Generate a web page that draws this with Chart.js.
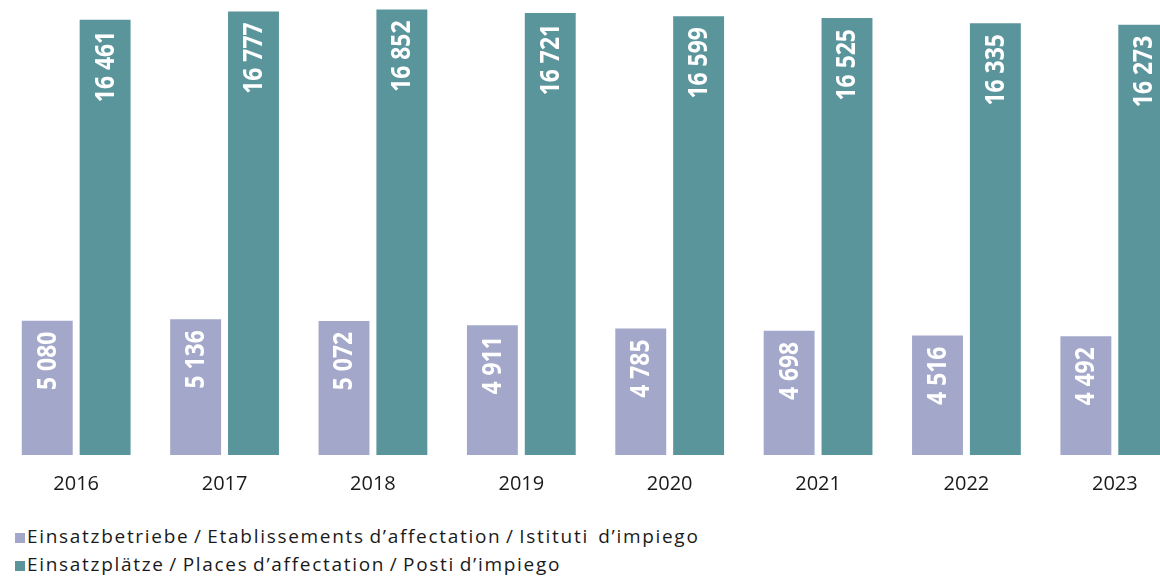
<!DOCTYPE html>
<html>
<head>
<meta charset="utf-8">
<script src="https://cdn.jsdelivr.net/npm/chart.js@4/dist/chart.umd.min.js"></script>
<style>
  html, body { margin: 0; padding: 0; background: #fff; overflow: hidden; }
  #wrap { position: relative; width: 1160px; height: 576px; overflow: hidden; }
  #grafico { position: absolute; left: 0; top: 0; }
  #legende { position: absolute; left: 15px; top: 522px; font-family: 'Open Sans', sans-serif;
             font-size: 19px; letter-spacing: 1.7px; word-spacing: -2px; color: #1a1a1a; }
  #legende div { height: 28px; line-height: 28px; white-space: pre; display: flex; align-items: center; }
  #legende span.box { display: inline-block; width: 10px; height: 10px; margin-right: 2px; margin-top: 3px; }
</style>
</head>
<body>
<div id="wrap">
  <canvas id="grafico" width="1190" height="513"></canvas>
  <div id="legende"></div>
</div>
<script>
const jahre = ["2016", "2017", "2018", "2019", "2020", "2021", "2022", "2023"];
const betriebe = [5080, 5136, 5072, 4911, 4785, 4698, 4516, 4492];
const plaetze = [16461, 16777, 16852, 16721, 16599, 16525, 16335, 16273];

const labelBetriebe = "Einsatzbetriebe / Etablissements d\u2019affectation / Istituti  d\u2019impiego";
const labelPlaetze = "Einsatzplätze / Places d\u2019affectation / Posti d\u2019impiego";

const farbeBetriebe = "#a3a7c9";
const farbePlaetze = "#5a959c";

// Werte senkrecht in die Balken schreiben
const werteImBalken = {
  id: "werteImBalken",
  afterDatasetsDraw(chart) {
    const ctx = chart.ctx;
    chart.data.datasets.forEach((ds, i) => {
      const meta = chart.getDatasetMeta(i);
      meta.data.forEach((bar, j) => {
        const txt = ds.data[j].toLocaleString("de-CH").replace(/[’',.]/g, " ");
        ctx.save();
        ctx.translate(bar.x, bar.y + 11);
        ctx.rotate(-Math.PI / 2);
        ctx.scale(0.88, 1);
        ctx.font = "bold 26px 'Open Sans'";
        ctx.fillStyle = "#ffffff";
        ctx.textAlign = "right";
        ctx.textBaseline = "middle";
        ctx.fillText(txt, 0, 1);
        ctx.restore();
      });
    });
  }
};

const chart = new Chart(document.getElementById("grafico"), {
  type: "bar",
  data: {
    labels: jahre,
    datasets: [
      { label: labelBetriebe, data: betriebe, backgroundColor: farbeBetriebe, barPercentage: 0.88, categoryPercentage: 0.78 },
      { label: labelPlaetze, data: plaetze, backgroundColor: farbePlaetze, barPercentage: 0.88, categoryPercentage: 0.78 }
    ]
  },
  options: {
    responsive: false,
    animation: false,
    layout: { padding: { left: 2, right: 1, top: 0, bottom: 0 } },
    plugins: {
      legend: { display: false },
      tooltip: { enabled: false }
    },
    scales: {
      x: {
        grid: { display: false, drawTicks: false },
        border: { display: false },
        ticks: { color: "#1a1a1a", padding: 17, font: { family: "'Open Sans'", size: 20 } }
      },
      y: {
        display: false,
        min: 0,
        max: 17210
      }
    }
  },
  plugins: [werteImBalken]
});

// Legende unten, zweizeilig
const legende = document.getElementById("legende");
chart.data.datasets.forEach(ds => {
  const zeile = document.createElement("div");
  const box = document.createElement("span");
  box.className = "box";
  box.style.background = ds.backgroundColor;
  zeile.appendChild(box);
  zeile.appendChild(document.createTextNode(ds.label));
  legende.appendChild(zeile);
});
</script>
</body>
</html>
